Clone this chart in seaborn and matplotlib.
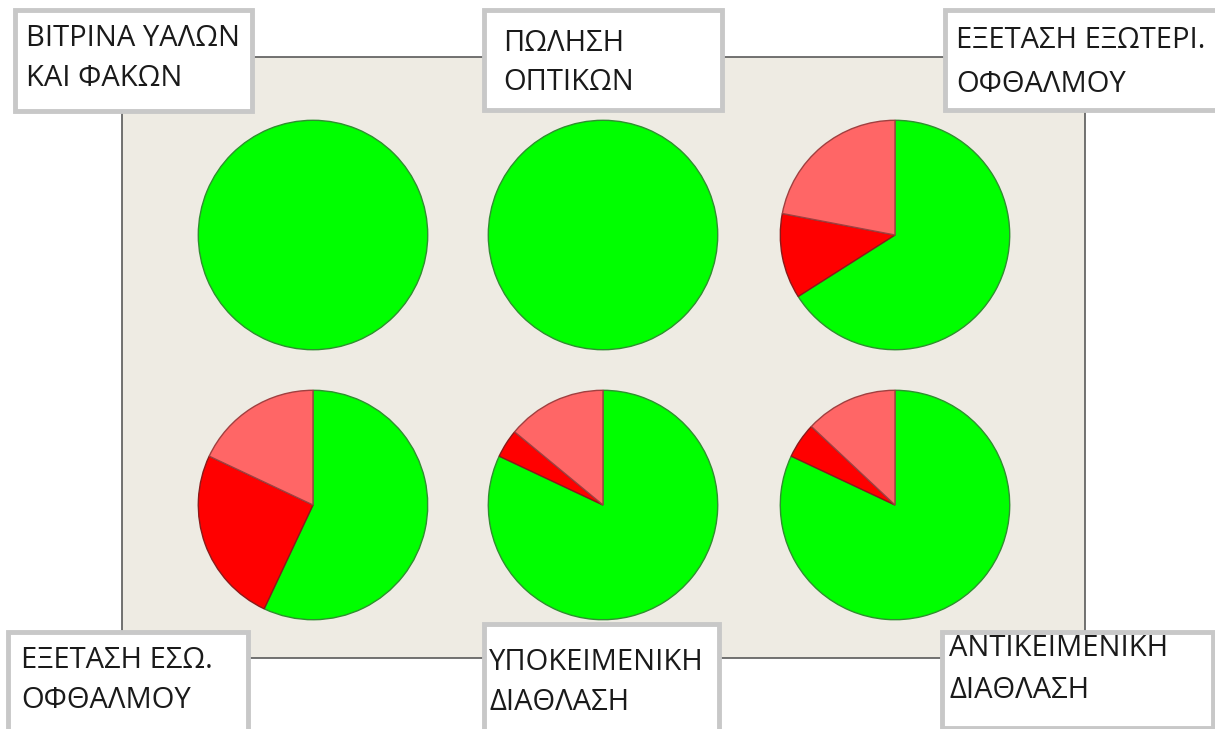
import matplotlib
matplotlib.use("Agg")
import matplotlib.pyplot as plt
import seaborn as sns
from matplotlib.patches import Rectangle

# Ophthalmology service satisfaction - six small pies
labels = [
    ["ΒΙΤΡΙΝΑ ΥΑΛΩΝ", "ΚΑΙ ΦΑΚΩΝ"],
    ["ΠΩΛΗΣΗ", "ΟΠΤΙΚΩΝ"],
    ["ΕΞΕΤΑΣΗ ΕΞΩΤΕΡΙ.", "ΟΦΘΑΛΜΟΥ"],
    ["ΕΞΕΤΑΣΗ ΕΣΩ.", "ΟΦΘΑΛΜΟΥ"],
    ["ΥΠΟΚΕΙΜΕΝΙΚΗ", "ΔΙΑΘΛΑΣΗ"],
    ["ΑΝΤΙΚΕΙΜΕΝΙΚΗ", "ΔΙΑΘΛΑΣΗ"],
]
green_share = [100, 100, 66, 57, 82, 82]
red_share = [0, 0, 12, 25, 4, 5]
salmon_share = [0, 0, 22, 18, 14, 13]

slice_colors = ["#00ff00", "#ff0000", "#ff6666"]
edge_colors = ["#2f8f2f", "#8b1a1a", "#a04040"]

sns.set_theme(style="white")
plt.rcParams["font.family"] = ["Open Sans", "DejaVu Sans"]

W, H = 1215, 729
fig = plt.figure(figsize=(W / 100, H / 100), dpi=100)
fig.patch.set_facecolor("white")


def px_box(left, top, width, height):
    return [left / W, 1 - (top + height) / H, width / W, height / H]


# beige panel behind the pies
panel = fig.add_axes(px_box(122, 57, 963, 601))
panel.set_facecolor("#eeebe3")
panel.set_xticks([])
panel.set_yticks([])
for sp in panel.spines.values():
    sp.set_color("#5a5a5a")
    sp.set_linewidth(1.2)

centers = [(313, 235), (603, 235), (895, 235), (313, 505), (603, 505), (895, 505)]
radius = 117

for (cx, cy), g, r, s in zip(centers, green_share, red_share, salmon_share):
    ax = fig.add_axes(px_box(cx - radius, cy - radius, 2 * radius, 2 * radius))
    vals, cols, edges = [], [], []
    for v, c, e in zip([g, r, s], slice_colors, edge_colors):
        if v > 0:
            vals.append(v)
            cols.append(c)
            edges.append(e)
    wedges, _ = ax.pie(vals, colors=cols, startangle=90, counterclock=False,
                       radius=1)
    for w, e in zip(wedges, edges):
        w.set_edgecolor(e)
        w.set_linewidth(1.0)
    ax.set_xlim(-1.02, 1.02)
    ax.set_ylim(-1.02, 1.02)
    ax.set_aspect("equal")
    ax.axis("off")

# label boxes: (left, top, width, height, text x, line 1 y, line 2 y)
boxes = [
    (15, 10, 237, 101, 26, 38, 78),
    (484, 10, 238, 100, 503, 43, 82),
    (945, 10, 275, 100, 956, 40, 84),
    (8, 632, 240, 100, 21, 660, 700),
    (484, 624, 235, 110, 489, 663, 703),
    (942, 632, 271, 96, 949, 649, 690),
]
overlay = fig.add_axes([0, 0, 1, 1])
overlay.set_xlim(0, W)
overlay.set_ylim(H, 0)
overlay.axis("off")
overlay.patch.set_alpha(0)
for (bx, by, bw, bh, tx, y1, y2), lab in zip(boxes, labels):
    overlay.add_patch(Rectangle((bx, by), bw, bh, facecolor="white",
                                edgecolor="#c8c8c8", linewidth=3.5))
    for line, ty in zip(lab, [y1, y2]):
        overlay.text(tx, ty, line, fontsize=21, color="#1a1a1a",
                     va="center", ha="left")

fig.savefig("out.png", dpi=100)
